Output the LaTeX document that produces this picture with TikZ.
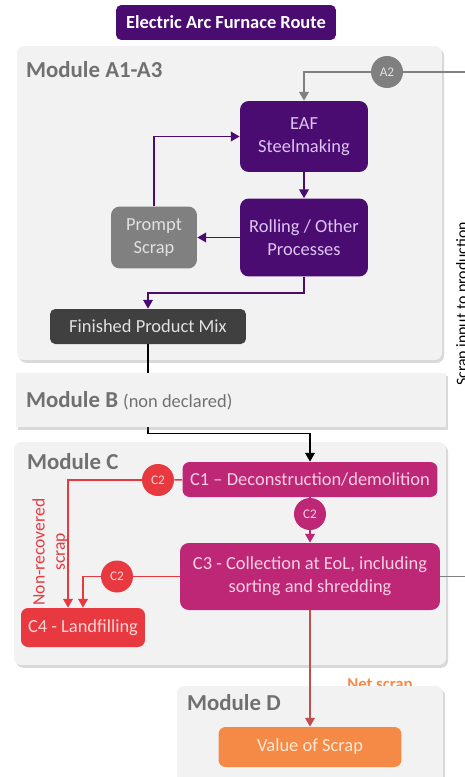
\documentclass[tikz,border=0pt]{standalone}
\usepackage{fontspec}
\setmainfont{Carlito}
\usetikzlibrary{shapes,arrows.meta,positioning,calc,shadows}

\definecolor{routepurple}{RGB}{75,12,114}
\definecolor{lilac}{RGB}{222,196,242}
\definecolor{panelgray}{RGB}{242,242,242}
\definecolor{labelgray}{RGB}{112,112,112}
\definecolor{midgray}{RGB}{128,128,128}
\definecolor{darkgray}{RGB}{64,64,64}
\definecolor{lightgray}{RGB}{225,225,225}
\definecolor{eolmagenta}{RGB}{190,39,118}
\definecolor{pinktext}{RGB}{246,208,228}
\definecolor{landred}{RGB}{232,57,64}
\definecolor{redtext}{RGB}{250,214,214}
\definecolor{netred}{RGB}{192,80,77}
\definecolor{scraporange}{RGB}{245,137,70}
\definecolor{orangetext}{RGB}{255,232,214}

\begin{document}
\begin{tikzpicture}[x=0.02cm, y=-0.02cm, >={Triangle[length=5pt,width=5.5pt]}, font=\fontsize{10.5}{13}\selectfont]
        \tikzstyle{panel} = [rectangle, fill=panelgray, rounded corners=4pt, drop shadow={opacity=0.3, shadow xshift=1.2pt, shadow yshift=-1.6pt}]
        \tikzstyle{modlabel} = [anchor=west, text=labelgray, font=\fontsize{13}{15}\selectfont\bfseries]
        \tikzstyle{box} = [rectangle, rounded corners=5pt, align=center, inner sep=2pt]
        \tikzstyle{badge} = [circle, minimum size=0.64cm, inner sep=0pt, font=\fontsize{7.5}{8}\selectfont]
        \tikzstyle{pline} = [draw=routepurple, line width=0.8pt]
        \tikzstyle{gline} = [draw=midgray, line width=0.8pt]
        \tikzstyle{kline} = [draw=black, line width=0.8pt]
        \tikzstyle{mline} = [draw=eolmagenta, line width=0.8pt]
        \tikzstyle{rline} = [draw=landred, line width=0.8pt]

        \clip (0,0) rectangle (465,777);

        \node [box, fill=routepurple, text=white, font=\fontsize{10.5}{12}\selectfont\bfseries, rounded corners=3pt, minimum width=4.4cm, minimum height=0.7cm] (title) at (226,22.5) {Electric Arc Furnace Route};

        \node [panel, minimum width=8.5cm, minimum height=6.28cm] (panelA) at (229.5,203) {};
        \node [modlabel] (labelA) at (20,70) {Module A1-A3};
        \node [panel, minimum width=8.64cm, minimum height=4.46cm] (panelC) at (230,553.5) {};
        \node [modlabel] (labelC) at (21,462) {Module C};

        % production steps
        \node [box, fill=routepurple, text=lilac, minimum width=2.56cm, minimum height=1.42cm] (eaf) at (304,136.5) {EAF\\Steelmaking};
        \node [box, fill=routepurple, text=lilac, minimum width=2.56cm, minimum height=1.56cm] (roll) at (304,237.5) {Rolling / Other\\Processes};
        \node [box, fill=midgray, text=lightgray, minimum width=1.72cm, minimum height=1.24cm] (prompt) at (154,237.5) {Prompt\\Scrap};
        \node [box, fill=darkgray, text=lightgray, rounded corners=3pt, minimum width=3.92cm, minimum height=0.7cm] (fin) at (148,326.5) {Finished Product Mix};
        \node [badge, fill=midgray, text=lightgray] (a2) at (387,72) {A2};
        \coordinate (scrapin) at (470,72);

        % end of life
        \node [box, fill=eolmagenta, text=pinktext, rounded corners=4pt, minimum width=5.1cm, minimum height=0.7cm] (c1) at (310,479.5) {C1 -- Deconstruction/demolition};
        \node [box, fill=eolmagenta, text=pinktext, minimum width=5.2cm, minimum height=1.34cm] (c3) at (310,576.5) {C3 - Collection at EoL, including\\sorting and shredding};
        \node [box, fill=landred, text=redtext, rounded corners=4pt, minimum width=2.48cm, minimum height=0.78cm] (c4) at (83,627.5) {C4 - Landfilling};
        \node [badge, fill=landred, text=redtext] (c2a) at (158,480) {C2};
        \node [badge, fill=eolmagenta, text=pinktext] (c2b) at (310,514) {C2};
        \node [badge, fill=landred, text=redtext] (c2c) at (117,576.5) {C2};
        \node [rotate=90, align=center, text=landred, font=\fontsize{10}{11.5}\selectfont] (nonrec) at (50,552) {Non-recovered\\scrap};
        \coordinate (scrapout) at (470,576.5);

        \draw [kline, ->] (fin.south) -- ++(0,89) -| (c1);

        \node [panel, rounded corners=0pt, minimum width=8.6cm, minimum height=1.08cm] (panelB) at (231,400) {};
        \node [modlabel] (labelB) at (20,401) {Module B \fontsize{10.5}{12}\selectfont\mdseries(non declared)};

        \node [anchor=base, text=scraporange, font=\fontsize{9.5}{11}\selectfont\bfseries] (netscrap) at (380,689) {Net scrap};
        \node [panel, minimum width=5.32cm, minimum height=2.08cm] (panelD) at (310,738) {};
        \node [modlabel] (labelD) at (181,703) {Module D};
        \node [box, fill=scraporange, text=orangetext, rounded corners=4pt, minimum width=3.66cm, minimum height=0.8cm] (value) at (310,747) {Value of Scrap};

        \node [rotate=90, anchor=base, inner sep=0pt, font=\fontsize{9}{11}\selectfont] (scrapinput) at (467,304) {Scrap input to production};

        \draw [gline] (scrapin) -- (a2);
        \draw [gline, ->] (a2) -| (eaf);
        \draw [pline, ->] (eaf) -- (roll);
        \draw [pline, ->] (roll) -- (prompt);
        \draw [pline, ->] (prompt) |- (eaf);
        \draw [pline, ->] (roll.south) -- ++(0,16) -| (fin);

        \draw [rline] (c1) -- (c2a);
        \draw [rline, ->] (c2a) -| ($(c4.north)+(-15,0)$);
        \draw [mline] (c1) -- (c2b);
        \draw [mline, ->] (c2b) -- (c3);
        \draw [rline] (c3) -- (c2c);
        \draw [rline, ->] (c2c) -| (c4);
        \draw [gline] (c3) -- (scrapout);
        \draw [draw=netred, line width=0.8pt, ->] (c3) -- (value);
    \end{tikzpicture}
\end{document}
